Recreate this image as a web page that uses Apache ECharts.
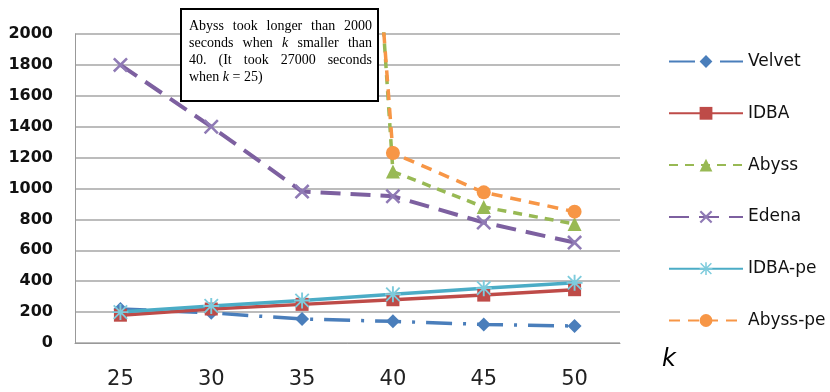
<!DOCTYPE html>
<html><head><meta charset="utf-8">
<script src="https://cdn.jsdelivr.net/npm/echarts@6/dist/echarts.min.js"></script>
<style>html,body{margin:0;padding:0;background:#fff}#c{width:830px;height:392px}</style>
</head><body><div id="c"></div>
<script>
var categories = ['25', '30', '35', '40', '45', '50'];
var velvet   = [220, 195, 155, 140, 120, 110];
var idba     = [180, 220, 250, 280, 310, 345];
var abyss    = [null, null, 10000, 1110, 880, 770];
var edena    = [1800, 1400, 980, 950, 780, 650];
var idbaPe   = [200, 240, 275, 315, 355, 390];
var abyssPe  = [null, null, 9000, 1230, 975, 850];
var yTicks = {min: 0, max: 2000, interval: 200};

var xPath = 'path://M0,1.2L1.2,0L5,3.8L8.8,0L10,1.2L6.2,5L10,8.8L8.8,10L5,6.2L1.2,10L0,8.8L3.8,5Z';
var starPath = 'path://M4.4,0L5.6,0L5.6,10L4.4,10Z M0,4.4L10,4.4L10,5.6L0,5.6Z M1.2,0.4L9.6,8.8L8.8,9.6L0.4,1.2Z M8.8,0.4L9.6,1.2L1.2,9.6L0.4,8.8Z';

function mk(name, data, color, lineType, width, symbol, size, symColor) {
  return {
    name: name, type: 'line', data: data, clip: true, connectNulls: false,
    symbol: symbol, symbolSize: size, showAllSymbol: true,
    lineStyle: {color: color, width: width, type: lineType, cap: 'butt'},
    itemStyle: {color: symColor || color, borderWidth: 0},
    emphasis: {disabled: true}, animation: false
  };
}

var chart = echarts.init(document.getElementById('c'));

var ctx = document.createElement('canvas').getContext('2d');
var annFont = 14, annFam = '"Liberation Serif", "Times New Roman", serif';
var annLines = [
  [{t:'Abyss'},{t:'took'},{t:'longer'},{t:'than'},{t:'2000'}],
  [{t:'seconds'},{t:'when'},{t:'k',i:true},{t:'smaller'},{t:'than'}],
  [{t:'40.'},{t:'(It'},{t:'took'},{t:'27000'},{t:'seconds'}],
  [{t:'when'},{t:'k',i:true},{t:'='},{t:'25)'}]
];
var gx0 = 189, gx1 = 372, gy0 = 25, lh = 17;
var annEls = [{type:'rect', shape:{x:181, y:9, width:197, height:92}, style:{fill:'#fff', stroke:'#000', lineWidth:2}, z: 100}];
annLines.forEach(function(line, li){
  var ws = line.map(function(w){ ctx.font = (w.i?'italic ':'') + annFont + 'px ' + annFam; return ctx.measureText(w.t).width; });
  var sum = ws.reduce(function(a,b){return a+b;},0);
  var last = li === annLines.length - 1;
  ctx.font = annFont + 'px ' + annFam;
  var gap = last ? ctx.measureText(' ').width : (gx1 - gx0 - sum) / (line.length - 1);
  var x = gx0;
  line.forEach(function(w, wi){
    annEls.push({type:'text', x: x, y: gy0 + 1 + li*lh, z: 101,
      style:{text: w.t, font: (w.i?'italic ':'') + annFont + 'px ' + annFam, fill:'#000', textVerticalAlign:'middle', textAlign:'left'}});
    x += ws[wi] + gap;
  });
});
annEls.push({type:'text', x: 662, y: 360, z: 101, style:{text:'k', font:'italic 24px "DejaVu Sans", sans-serif', fill:'#000', textVerticalAlign:'middle'}});

chart.setOption({
  animation: false,
  grid: {left: 75, right: 210, top: 34, bottom: 49, containLabel: false},
  xAxis: {
    type: 'category', data: categories, boundaryGap: true,
    axisLine: {lineStyle: {color: '#999', width: 1}},
    axisTick: {show: false},
    axisLabel: {margin: 26, fontSize: 21, color: '#222', fontFamily: '"DejaVu Sans", sans-serif'}
  },
  yAxis: {
    type: 'value', min: yTicks.min, max: yTicks.max, interval: yTicks.interval,
    axisLine: {show: true, lineStyle: {color: '#999', width: 1}},
    axisTick: {show: false},
    splitLine: {lineStyle: {color: '#a6a6a6', width: 1.5}},
    axisLabel: {margin: 22, fontSize: 16, fontWeight: 'bold', color: '#111', fontFamily: '"DejaVu Sans", sans-serif',
      formatter: function(v){ return String(v); }}
  },
  legend: {
    orient: 'vertical', left: 668, top: 53, padding: 0, itemWidth: 74, itemHeight: 16, itemGap: 34.8,
    textStyle: {fontSize: 17, color: '#111', fontFamily: '"DejaVu Sans", sans-serif', lineHeight: 16},
    data: ['Velvet','IDBA','Abyss','Edena','IDBA-pe','Abyss-pe']
  },
  graphic: annEls,
  series: [
    mk('Velvet', velvet, '#4a7ebb', [26, 11, 3, 11], 3.5, 'diamond', 14),
    mk('IDBA', idba, '#be4b48', 'solid', 3.5, 'rect', 13),
    mk('Abyss', abyss, '#98b954', [9, 7], 3.5, 'triangle', 14),
    mk('Edena', edena, '#7d60a0', [20, 10], 4, xPath, 15, '#8f7ab5'),
    mk('IDBA-pe', idbaPe, '#4bacc6', 'solid', 3.5, starPath, 16, '#7dcbdc'),
    mk('Abyss-pe', abyssPe, '#f79646', [11, 8], 3.5, 'circle', 14)
  ]
});
</script></body></html>
